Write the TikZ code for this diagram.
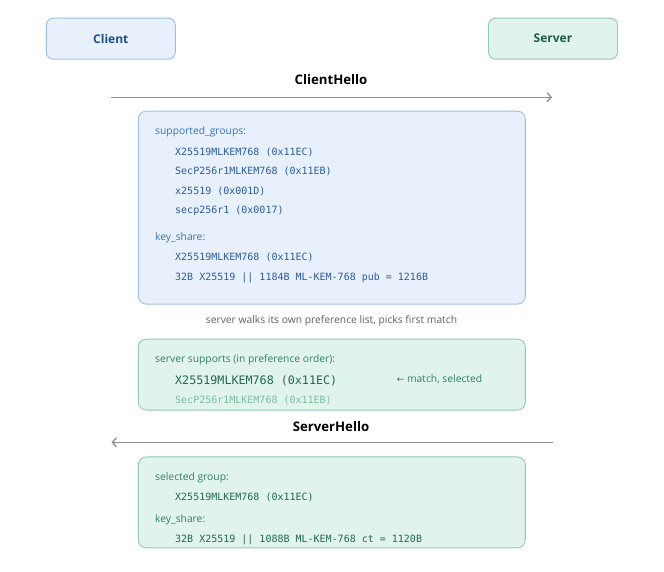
\documentclass[tikz,border=0pt]{standalone}
\usepackage{fontspec}
\setmainfont{Open Sans}
\setmonofont{DejaVu Sans Mono}
\newfontfamily\arrowfont{DejaVu Sans}
\usetikzlibrary{arrows.meta}

\definecolor{clientfill}{HTML}{E8F1FB}
\definecolor{clientline}{HTML}{9CC0E6}
\definecolor{clienttext}{HTML}{1F4E8C}
\definecolor{serverfill}{HTML}{E1F4EC}
\definecolor{serverline}{HTML}{8FCBB0}
\definecolor{servertext}{HTML}{1D5C45}
\definecolor{bluelabel}{HTML}{3572B8}
\definecolor{bluecode}{HTML}{2A5C9E}
\definecolor{greenlabel}{HTML}{2F8063}
\definecolor{greencode}{HTML}{1F6A4D}
\definecolor{fadedcode}{HTML}{7DBBA2}
\definecolor{notegray}{HTML}{5F5F5F}
\definecolor{flowgray}{HTML}{8E8E8E}

\tikzset{
    party/.style={draw, rounded corners=7pt, line width=0.9pt,
        minimum width=129pt, minimum height=41pt,
        font=\fontsize{12}{14}\selectfont\bfseries},
    panel/.style={draw, rounded corners=8pt, line width=0.9pt,
        minimum width=387pt},
    lbl/.style={anchor=west, inner sep=0pt, text height=8pt, text depth=2.5pt,
        font=\fontsize{10.3}{12}\selectfont},
    code/.style={anchor=west, inner sep=0pt, text height=8pt, text depth=1pt,
        font=\ttfamily\fontsize{10}{12}\selectfont},
    bigcode/.style={anchor=west, inner sep=0pt, text height=9.5pt, text depth=1pt,
        font=\ttfamily\fontsize{11.7}{14}\selectfont},
    msg/.style={inner sep=0pt, font=\fontsize{13.2}{15}\selectfont\bfseries},
    flow/.style={draw=flowgray, line width=1.3pt,
        -{Straight Barb[length=4pt,width=9pt]}},
}

\begin{document}
\begin{tikzpicture}[x=1pt, y=-1pt]
    \useasboundingbox (0,0) rectangle (664,572);

    % --- The two parties ---
    \node[party, fill=clientfill, draw=clientline, text=clienttext] (client) at (110.8,38.7) {Client};
    \node[party, fill=serverfill, draw=serverline, text=servertext] (server) at (553,38.7) {Server};

    % --- ClientHello ---
    \node[msg] (hello1) at (331,80) {ClientHello};
    \coordinate (c1) at (110.7,97.3);
    \coordinate (s1) at (552,97.3);
    \draw[flow] (c1) -- (s1);

    \node[panel, fill=clientfill, draw=clientline, minimum height=193pt] (offer) at (331.8,207.6) {};
    \begin{scope}[bluelabel]
        \node[lbl] (groups) at (155,131.7) {supported\_groups:};
        \node[lbl] (share1) at (155,237.3) {key\_share:};
    \end{scope}
    \begin{scope}[bluecode]
        \node[code] (g1) at (175,151.7) {X25519MLKEM768 (0x11EC)};
        \node[code] (g2) at (175,171.0) {SecP256r1MLKEM768 (0x11EB)};
        \node[code] (g3) at (175,190.7) {x25519 (0x001D)};
        \node[code] (g4) at (175,210.0) {secp256r1 (0x0017)};
        \node[code] (k1) at (175,257.0) {X25519MLKEM768 (0x11EC)};
        \node[code] (k2) at (175,277.0) {32B X25519 || 1184B ML-KEM-768 pub = 1216B};
    \end{scope}

    % --- Server side selection ---
    \node[notegray, inner sep=0pt, font=\fontsize{10.3}{12}\selectfont] (walk) at (331.5,320.7)
        {server walks its own preference list, picks first match};

    \node[panel, fill=serverfill, draw=serverline, minimum height=71pt] (prefs) at (331.8,374.6) {};
    \node[lbl, greenlabel] (supports) at (155,360) {server supports (in preference order):};
    \node[bigcode, greencode] (pick) at (175,380) {X25519MLKEM768 (0x11EC)};
    \node[lbl, greenlabel] (matched) at (396.7,380) {{\arrowfont\fontsize{9}{12}\selectfont ←} match, selected};
    \node[code, fadedcode] (other) at (175,399.5) {SecP256r1MLKEM768 (0x11EB)};

    % --- ServerHello ---
    \node[msg] (hello2) at (331,426.7) {ServerHello};
    \coordinate (s2) at (553.3,442.3);
    \coordinate (c2) at (111.5,442.3);
    \draw[flow] (s2) -- (c2);

    \node[panel, fill=serverfill, draw=serverline, minimum height=91pt] (reply) at (331.8,502.4) {};
    \begin{scope}[greenlabel]
        \node[lbl] (selected) at (155,477.3) {selected group:};
        \node[lbl] (share2) at (155,519.3) {key\_share:};
    \end{scope}
    \begin{scope}[greencode]
        \node[code] (r1) at (175,497.3) {X25519MLKEM768 (0x11EC)};
        \node[code] (r2) at (175,539.3) {32B X25519 || 1088B ML-KEM-768 ct = 1120B};
    \end{scope}

\end{tikzpicture}
\end{document}
